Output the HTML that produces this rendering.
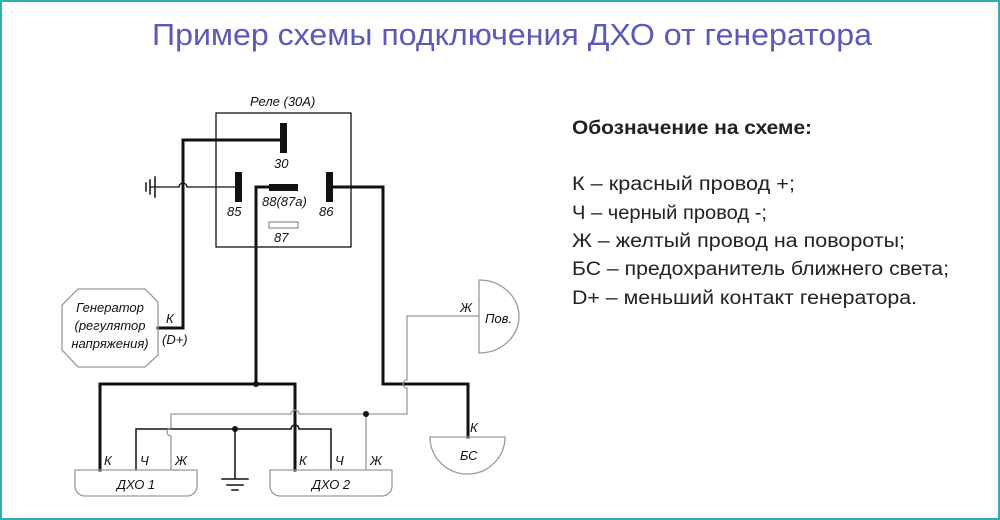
<!DOCTYPE html>
<html><head><meta charset="utf-8"><style>
html,body{margin:0;padding:0;background:#fff}
svg{display:block}
.t{font-family:"Liberation Sans","DejaVu Sans",sans-serif}
.s{font-family:"Liberation Sans","DejaVu Sans",sans-serif;font-style:italic;font-size:13px;fill:#111}
</style></head><body>
<svg width="1000" height="520" viewBox="0 0 1000 520" xmlns="http://www.w3.org/2000/svg">
<rect x="1" y="1" width="998" height="518" fill="#fff" stroke="#2ab0b0" stroke-width="2"/>
<text class="t" x="512" y="45" text-anchor="middle" font-size="31" fill="#5a5ab8" textLength="720" lengthAdjust="spacingAndGlyphs">Пример схемы  подключения ДХО от генератора</text>

<g class="t" fill="#222" font-size="19">
<text x="572" y="134" font-weight="bold" textLength="240" lengthAdjust="spacingAndGlyphs">Обозначение на схеме:</text>
<text x="572" y="190" textLength="223" lengthAdjust="spacingAndGlyphs">К – красный провод +;</text>
<text x="572" y="219" textLength="195" lengthAdjust="spacingAndGlyphs">Ч – черный провод -;</text>
<text x="572" y="247" textLength="333" lengthAdjust="spacingAndGlyphs">Ж – желтый провод на повороты;</text>
<text x="572" y="275" textLength="377" lengthAdjust="spacingAndGlyphs">БС – предохранитель ближнего света;</text>
<text x="572" y="304" textLength="345" lengthAdjust="spacingAndGlyphs">D+ – меньший контакт генератора.</text>
</g>

<!-- relay -->
<rect x="216" y="113" width="135" height="134" fill="none" stroke="#111" stroke-width="1.3"/>
<text class="s" x="250" y="106">Реле (30А)</text>
<rect x="280" y="123" width="7" height="30" fill="#111"/>
<text class="s" x="274" y="168">30</text>
<rect x="235" y="172" width="7" height="30" fill="#111"/>
<text class="s" x="227" y="216">85</text>
<rect x="326" y="172" width="7" height="30" fill="#111"/>
<text class="s" x="319" y="216">86</text>
<rect x="269" y="184" width="29" height="7" fill="#111"/>
<text class="s" x="262" y="206">88(87а)</text>
<rect x="269" y="222" width="29" height="6" fill="none" stroke="#777" stroke-width="1"/>
<text class="s" x="274" y="242">87</text>

<g fill="none" stroke="#111" stroke-linecap="square">
<!-- ground at 85 -->
<path d="M150 187 H179 A4 4 0 0 1 187 187 H236" stroke-width="1.3"/>
<path d="M150 180 V194 M146 183 V191 M155 177 V197" stroke-width="1.5"/>
<!-- generator wire -->
<path d="M158 328 H183 V140 H281" stroke-width="3"/>
<!-- 88 wire -->
<path d="M270 187 H256 V384" stroke-width="3"/>
<!-- 86 wire -->
<path d="M332 187 H383 V384 H468 V437" stroke-width="3"/>
<!-- main bus -->
<path d="M100 470 V384 H295 V470" stroke-width="3"/>
<!-- black thin ground line -->
<path d="M136 470 V429 H291 A4 4 0 0 1 299 429 H331 V470" stroke-width="1.5"/>
<path d="M235 429 V479 M222 479 H248 M227 485 H243 M232 490 H238" stroke-width="1.5"/>
</g>
<g fill="none" stroke="#999" stroke-width="1.3">
<path d="M171 470 V436 A4 4 0 0 1 171 428 V414 H291 A4 4 0 0 1 299 414 H407 V388 A4 4 0 0 1 407 380 V316 H479"/>
<path d="M366 414 V470"/>
</g>
<circle cx="256" cy="384" r="3" fill="#111"/>
<circle cx="235" cy="429" r="3" fill="#111"/>
<circle cx="366" cy="414" r="3" fill="#111"/>

<!-- generator -->
<polygon points="78,289 145,289 158,302 158,355 145,367 78,367 62,350 62,305" fill="none" stroke="#999" stroke-width="1.3"/>
<text class="s" x="110" y="312" text-anchor="middle">Генератор</text>
<text class="s" x="110" y="330" text-anchor="middle">(регулятор</text>
<text class="s" x="110" y="348" text-anchor="middle">напряжения)</text>
<text class="s" x="166" y="323">К</text>
<text class="s" x="162" y="344">(D+)</text>

<!-- Pov -->
<path d="M479 280 A40 36.5 0 0 1 479 353 Z" fill="none" stroke="#999" stroke-width="1.3"/>
<text class="s" x="485" y="323">Пов.</text>
<text class="s" x="460" y="312">Ж</text>
<!-- BC -->
<path d="M430 437 H505 A37.5 37 0 0 1 430 437 Z" fill="none" stroke="#999" stroke-width="1.3"/>
<text class="s" x="460" y="460">БС</text>
<text class="s" x="470" y="432">К</text>

<!-- DXO boxes -->
<path d="M75 470 H197 V486 A10 10 0 0 1 187 496 H85 A10 10 0 0 1 75 486 Z" fill="none" stroke="#999" stroke-width="1.3"/>
<text class="s" x="136" y="489" text-anchor="middle">ДХО 1</text>
<path d="M270 470 H392 V486 A10 10 0 0 1 382 496 H280 A10 10 0 0 1 270 486 Z" fill="none" stroke="#999" stroke-width="1.3"/>
<text class="s" x="331" y="489" text-anchor="middle">ДХО 2</text>
<text class="s" x="104" y="465">К</text>
<text class="s" x="140" y="465">Ч</text>
<text class="s" x="175" y="465">Ж</text>
<text class="s" x="299" y="465">К</text>
<text class="s" x="335" y="465">Ч</text>
<text class="s" x="370" y="465">Ж</text>
</svg>
</body></html>
